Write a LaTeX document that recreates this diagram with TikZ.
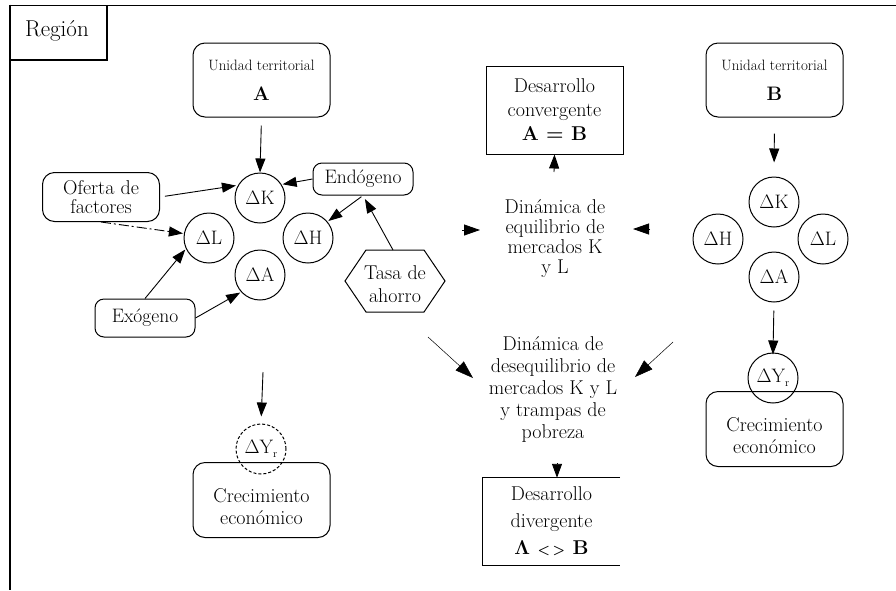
\documentclass[tikz,border=0pt]{standalone}
\usepackage{fontspec}
\usetikzlibrary{arrows.meta}
\newcommand{\subr}{\raisebox{-4pt}{\fontsize{11}{11}\selectfont r}}
\begin{document}
\begin{tikzpicture}[x=1pt,y=-1pt,
  base/.style={font=\fontsize{19.5}{21}\selectfont, align=center, inner sep=0pt},
  rbox/.style={base, draw, rounded corners=12pt, line width=1pt},
  sqbox/.style={base, draw, line width=1pt},
  circ/.style={base, draw, circle, minimum size=50pt, line width=1pt},
  arr/.style={-{Triangle[length=14pt,width=10pt]}, line width=0.9pt},
  bigtip/.style={-{Triangle[length=16pt,width=11pt]}, line width=0.8pt},
  thinarr/.style={-{Triangle[length=18pt,width=12pt]}, line width=0.5pt}
]
\useasboundingbox (0,0) rectangle (896,590);
% frame
\draw[line width=0.9pt] (10,5) -- (896,5);
\draw[line width=1.8pt] (10,4.5) -- (10,590);
\draw[line width=1.1pt] (10,60) -- (107,60) -- (107,5);
\node[base, font=\fontsize{23}{24}\selectfont] (region) at (57,31) {Región};

% Unit A
\node[rbox, minimum width=137pt, minimum height=74pt] (uA) at (261.5,80)
  {{\fontsize{15}{16}\selectfont Unidad territorial}\\[9pt]\textbf{A}};
\node[circ] (dKA) at (260,198) {ΔK};
\node[circ] (dLA) at (209,238) {ΔL};
\node[circ] (dHA) at (308,238) {ΔH};
\node[circ] (dAA) at (260,275) {ΔA};
\node[rbox, rounded corners=9pt, minimum width=100pt, minimum height=32pt] (endog) at (363,179) {Endógeno};
\node[rbox, minimum width=117pt, minimum height=49pt, font=\fontsize{20}{19}\selectfont] (oferta) at (101,197) {Oferta de\\factores};
\node[rbox, rounded corners=9pt, minimum width=100pt, minimum height=38pt] (exog) at (145,318) {Exógeno};
\node[base, font=\fontsize{20}{23}\selectfont] (tasa) at (395,284) {Tasa de\\ahorro};
\draw[line width=1pt] (345,281) -- (366,250) -- (424,250) -- (445,281) -- (424,312) -- (366,312) -- cycle;
\coordinate (tasatop) at (393,250);

\draw[arr, shorten <=8pt] (uA.south) -- (dKA.north);
\draw[arr, shorten <=5pt, shorten >=2pt] (oferta.east) -- (dKA.150);
\draw[arr, shorten >=1pt] (endog.west) -- (dKA.32);
\draw[arr, shorten <=2pt, shorten >=1pt] (endog.south) -- (dHA.40);
\draw[arr, shorten >=4pt] (tasatop) -- (endog.south);
\draw[arr, dash pattern=on 10pt off 3pt on 2pt off 3pt, shorten >=1pt] (oferta.south) -- (dLA.170);
\draw[arr, shorten >=1pt] (exog.north) -- (dLA.205);
\draw[arr, shorten >=1pt] (exog.east) -- (dAA.222);

% growth A
\coordinate (outA) at (263,372);
\node[circ, dashed, dash pattern=on 3pt off 2pt] (dYA) at (261,449) {ΔY\subr};
\node[rbox, minimum width=137pt, minimum height=75pt, font=\fontsize{20}{22}\selectfont] (crecA) at (261.5,500) {\\[6pt]Crecimiento\\económico};
\draw[arr, shorten >=7pt] (outA) -- (dYA.north);

% convergent
\node[sqbox, minimum width=137pt, minimum height=88pt, font=\fontsize{20}{24}\selectfont] (convA) at (554.5,110)
  {Desarrollo\\convergente\\\textbf{A = B}};
\node[base, font=\fontsize{20}{20}\selectfont] (eq) at (555,239) {Dinámica de\\equilibrio de\\mercados K\\y L};
\coordinate (eqtop) at (554,172);
\draw[arr] (eqtop) -- (convA.south);
\coordinate (eqL0) at (462,230);
\coordinate (eqL1) at (480,230);
\coordinate (eqR0) at (650,229);
\coordinate (eqR1) at (633,229);
\draw[bigtip] (eqL0) -- (eqL1);
\draw[bigtip] (eqR0) -- (eqR1);

% disequilibrium
\node[base, font=\fontsize{20}{22}\selectfont] (deseq) at (553,389) {Dinámica de\\desequilibrio de\\mercados K y L\\y trampas de\\pobreza};
\coordinate (dsL0) at (428,337);
\coordinate (dsL1) at (473,378);
\coordinate (dsR0) at (673,342);
\coordinate (dsR1) at (635,377);
\draw[thinarr] (dsL0) -- (dsL1);
\draw[thinarr] (dsR0) -- (dsR1);

\node[base, minimum width=137pt, minimum height=87pt, font=\fontsize{20}{27}\selectfont] (div) at (551.5,521.5)
  {Desarrollo\\divergente\\\textbf{Λ {\fontsize{14}{16}\selectfont<\,>} B}};
\draw[line width=1.2pt] (div.north east) -- (div.north west) -- (div.south west) -- (div.south east);
\coordinate (dsdown) at (557,463);
\draw[arr] (dsdown) -- (div.north -| dsdown);

% Unit B
\node[rbox, minimum width=137pt, minimum height=74pt] (uB) at (774.5,80)
  {{\fontsize{15}{16}\selectfont Unidad territorial}\\[9pt]\textbf{B}};
\node[circ] (dKB) at (774,202) {ΔK};
\node[circ] (dHB) at (718,239) {ΔH};
\node[circ] (dLB) at (823,239) {ΔL};
\node[circ] (dAB) at (774,277) {ΔA};
\draw[arr, shorten <=16pt, shorten >=14pt] (uB.south) -- (dKB.north);
\node[circ] (dYB) at (773,378) {ΔY\subr};
\node[rbox, minimum width=137pt, minimum height=75pt, font=\fontsize{20}{22}\selectfont] (crecB) at (774.5,429) {\\[6pt]Crecimiento\\económico};
\draw[arr, shorten <=8pt, shorten >=-2pt] (dAB.south) -- (dYB.north);
\end{tikzpicture}
\end{document}
